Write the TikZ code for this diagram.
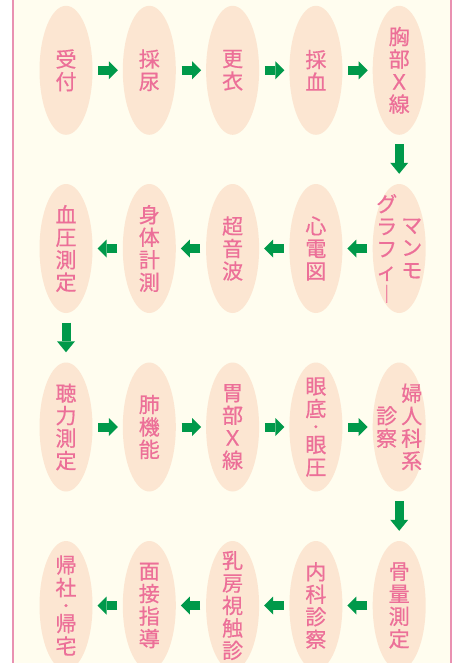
\documentclass[tikz,border=0pt]{standalone}
\usepackage{fontspec}
\newfontfamily\cjk[FakeBold=0.6]{Noto Sans CJK JP}
\usetikzlibrary{shapes.geometric,arrows.meta}

\definecolor{cream}{HTML}{FFFDEF}
\definecolor{peach}{HTML}{FCE6D2}
\definecolor{pinktext}{HTML}{EC6F98}
\definecolor{pinkline}{HTML}{E991B1}
\definecolor{flowgreen}{HTML}{00994A}

\tikzset{
	stepbg/.style={ellipse, fill=peach, minimum width=53pt, minimum height=129pt, inner sep=0pt},
	steptxt/.style={text=pinktext, font=\cjk\fontsize{21}{22.5}\selectfont, align=center, inner sep=0pt},
	harrow/.style={draw=flowgreen, line width=9pt, -{Triangle[length=9pt,width=18pt,line width=0pt]}, shorten <=5.5pt, shorten >=4.8pt},
	varrow/.style={draw=flowgreen, line width=9pt, -{Triangle[length=11pt,width=18pt,line width=0pt]}, shorten <=9.5pt, shorten >=10pt}
}
\newcommand{\middot}{{\fontsize{14}{14}\selectfont ・}}

\begin{document}
\begin{tikzpicture}[x=1pt, y=-1pt]

	\useasboundingbox (0, 0) rectangle (454, 663);
	\fill[cream] (13, 0) rectangle (451, 663); % Фон
	\draw[pinkline, line width=1.5pt] (13, 0) -- (13, 663);
	\draw[pinkline, line width=1.5pt] (451, 0) -- (451, 663);

	% 1-й ряд
	\node[stepbg] (s1) at (66, 70.3) {};
	\node[stepbg] (s2) at (149.3, 70.3) {};
	\node[stepbg] (s3) at (232.6, 70.3) {};
	\node[stepbg] (s4) at (315.9, 70.3) {};
	\node[stepbg] (s5) at (399.2, 70.3) {};
	\node[steptxt] at (s1) {受\\付};
	\node[steptxt] at (s2) {採\\尿};
	\node[steptxt] at (s3) {更\\衣};
	\node[steptxt] at (s4) {採\\血};
	\node[steptxt] at (s5) {胸\\部\\Ｘ\\線};

	% 2-й ряд
	\node[stepbg] (s6) at (399.2, 248.5) {};
	\node[stepbg] (s7) at (315.9, 248.5) {};
	\node[stepbg] (s8) at (232.6, 248.5) {};
	\node[stepbg] (s9) at (149.3, 248.5) {};
	\node[stepbg] (s10) at (66, 248.5) {};
	\node[steptxt] at ([xshift=12.5pt]s6) {マ\\ン\\モ};
	\node[steptxt] at ([xshift=-12.5pt]s6) {グ\\ラ\\フ\\ィ\\︱};
	\node[steptxt] at (s7) {心\\電\\図};
	\node[steptxt] at (s8) {超\\音\\波};
	\node[steptxt] at (s9) {身\\体\\計\\測};
	\node[steptxt] at (s10) {血\\圧\\測\\定};

	% 3-й ряд
	\node[stepbg] (s11) at (66, 427) {};
	\node[stepbg] (s12) at (149.3, 427) {};
	\node[stepbg] (s13) at (232.6, 427) {};
	\node[stepbg] (s14) at (315.9, 427) {};
	\node[stepbg] (s15) at (399.2, 427) {};
	\node[steptxt] at (s11) {聴\\力\\測\\定};
	\node[steptxt] at (s12) {肺\\機\\能};
	\node[steptxt] at (s13) {胃\\部\\Ｘ\\線};
	\node[steptxt] at (s14) {眼\\底\\[-7pt]\middot\\[-2pt]眼\\圧};
	\node[steptxt] at ([xshift=12.5pt]s15) {婦\\人\\科\\系};
	\node[steptxt] at ([xshift=-12.5pt]s15) {診\\察};

	% 4-й ряд
	\node[stepbg] (s16) at (399.2, 605.5) {};
	\node[stepbg] (s17) at (315.9, 605.5) {};
	\node[stepbg] (s18) at (232.6, 605.5) {};
	\node[stepbg] (s19) at (149.3, 605.5) {};
	\node[stepbg] (s20) at (66, 605.5) {};
	\node[steptxt] at (s16) {骨\\量\\測\\定};
	\node[steptxt] at (s17) {内\\科\\診\\察};
	\node[steptxt] at (s18) {乳\\房\\視\\触\\診};
	\node[steptxt] at (s19) {面\\接\\指\\導};
	\node[steptxt] at (s20) {帰\\社\\[-7pt]\middot\\[-2pt]帰\\宅};

	% Стрелки
	\draw[harrow] (s1) -- (s2);
	\draw[harrow] (s2) -- (s3);
	\draw[harrow] (s3) -- (s4);
	\draw[harrow] (s4) -- (s5);
	\draw[varrow] (s5) -- (s6);
	\draw[harrow] (s6) -- (s7);
	\draw[harrow] (s7) -- (s8);
	\draw[harrow] (s8) -- (s9);
	\draw[harrow] (s9) -- (s10);
	\draw[varrow] (s10) -- (s11);
	\draw[harrow] (s11) -- (s12);
	\draw[harrow] (s12) -- (s13);
	\draw[harrow] (s13) -- (s14);
	\draw[harrow] (s14) -- (s15);
	\draw[varrow] (s15) -- (s16);
	\draw[harrow] (s16) -- (s17);
	\draw[harrow] (s17) -- (s18);
	\draw[harrow] (s18) -- (s19);
	\draw[harrow] (s19) -- (s20);

\end{tikzpicture}
\end{document}
